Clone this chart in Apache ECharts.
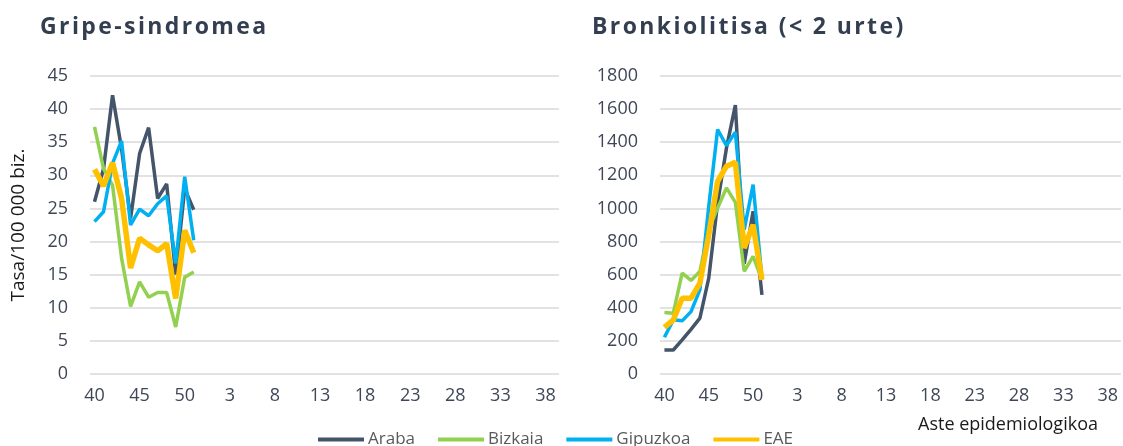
<!DOCTYPE html>
<html>
<head>
<meta charset="utf-8">
<script src="https://cdn.jsdelivr.net/npm/echarts@6/dist/echarts.min.js"></script>
<style>
  html, body { margin: 0; padding: 0; background: #fff; }
  #wrap { position: relative; width: 1123px; height: 446px; }
  #chart { position: absolute; left: 0; top: 0; width: 1123px; height: 446px; }
  .ttl {
    position: absolute; top: 14px; margin: 0;
    font-family: "Open Sans", sans-serif; font-weight: bold;
    font-size: 23px; line-height: 23px; letter-spacing: 2.4px;
    color: #333F50; white-space: nowrap;
  }
</style>
</head>
<body>
<div id="wrap">
  <div id="chart"></div>
  <div class="ttl" style="left:40px">Gripe-sindromea</div>
  <div class="ttl" style="left:592px">Bronkiolitisa (&lt; 2 urte)</div>
</div>
<script>
// aste epidemiologikoak: 40..52, gero 1..39
const weeks = ['40','41','42','43','44','45','46','47','48','49','50','51','52',
  '1','2','3','4','5','6','7','8','9','10','11','12','13','14','15','16','17','18','19','20',
  '21','22','23','24','25','26','27','28','29','30','31','32','33','34','35','36','37','38','39'];

const names = ['Araba', 'Bizkaia', 'Gipuzkoa', 'EAE'];

// Gripe-sindromea (tasa/100 000)
const gripeAraba    = [26.0, 31.0, 42.1, 34.0, 23.5, 33.3, 37.2, 26.5, 28.7, 15.0, 28.0, 24.8];
const gripeBizkaia  = [37.3, 31.0, 28.5, 17.5, 10.2, 13.9, 11.6, 12.3, 12.3, 7.1, 14.6, 15.4];
const gripeGipuzkoa = [23.0, 24.5, 31.8, 35.2, 22.5, 24.9, 23.9, 25.7, 26.9, 16.7, 29.8, 20.2];
const gripeEAE      = [30.9, 28.4, 31.9, 26.5, 16.0, 20.5, 19.5, 18.6, 19.7, 11.4, 21.7, 18.3];

// Bronkiolitisa (< 2 urte)
const bronAraba    = [145, 145, 206, 270, 337, 579, 1033, 1366, 1624, 666, 983, 478];
const bronBizkaia  = [371, 367, 609, 565, 620, 872, 1003, 1124, 1037, 620, 710, 569];
const bronGipuzkoa = [222, 327, 321, 377, 508, 1013, 1477, 1380, 1461, 872, 1144, 579];
const bronEAE      = [282, 327, 458, 458, 549, 841, 1164, 1255, 1279, 761, 902, 569];

const colors = ['#44546A', '#92D050', '#00B0F0', '#FFC000'];
const widths = [3.5, 3.5, 3.5, 5.5];

const tickColor = '#3F4757';
const font = '"Open Sans", sans-serif';

function xAxis(idx) {
  return {
    type: 'category', gridIndex: idx, data: weeks, boundaryGap: true,
    axisLine: { show: false }, axisTick: { show: false },
    axisLabel: { interval: 4, color: tickColor, fontFamily: font, fontSize: 18, margin: 13 }
  };
}
function yAxis(idx, max, interval, name) {
  return {
    type: 'value', gridIndex: idx, min: 0, max: max, interval: interval,
    name: name, nameLocation: 'middle', nameRotate: 90, nameGap: 62,
    nameTextStyle: { color: '#1a1a1a', fontFamily: font, fontSize: 19 },
    axisLine: { show: false }, axisTick: { show: false },
    splitLine: { lineStyle: { color: '#D9D9D9', width: 1.5 } },
    axisLabel: { color: tickColor, fontFamily: font, fontSize: 18, margin: 22,
      formatter: v => String(v) }
  };
}
function lines(idx, sets) {
  return sets.map((d, i) => ({
    name: names[i], type: 'line', xAxisIndex: idx, yAxisIndex: idx,
    data: d, showSymbol: false, symbol: 'none',
    lineStyle: { color: colors[i], width: widths[i] },
    itemStyle: { color: colors[i] }, z: 2 + i
  }));
}

const chart = echarts.init(document.getElementById('chart'), null, { renderer: 'canvas' });
chart.setOption({
  animation: false,
  grid: [
    { left: 90, top: 76, width: 469, height: 298 },
    { left: 660, top: 76, width: 461, height: 298 }
  ],
  xAxis: [xAxis(0), xAxis(1)],
  yAxis: [yAxis(0, 45, 5, 'Tasa/100 000 biz.'), yAxis(1, 1800, 200, '')],
  legend: {
    data: names, left: 313, top: 426, itemWidth: 46, itemHeight: 4, itemGap: 23,
    icon: 'rect',
    textStyle: { color: '#595959', fontFamily: font, fontSize: 17, padding: [0, 0, 0, -1] }
  },
  graphic: [{
    type: 'text', left: 918, top: 416,
    style: { text: 'Aste epidemiologikoa', fill: '#1a1a1a', font: '18px "Open Sans", sans-serif' }
  }],
  series: lines(0, [gripeAraba, gripeBizkaia, gripeGipuzkoa, gripeEAE])
    .concat(lines(1, [bronAraba, bronBizkaia, bronGipuzkoa, bronEAE]))
});
</script>
</body>
</html>
